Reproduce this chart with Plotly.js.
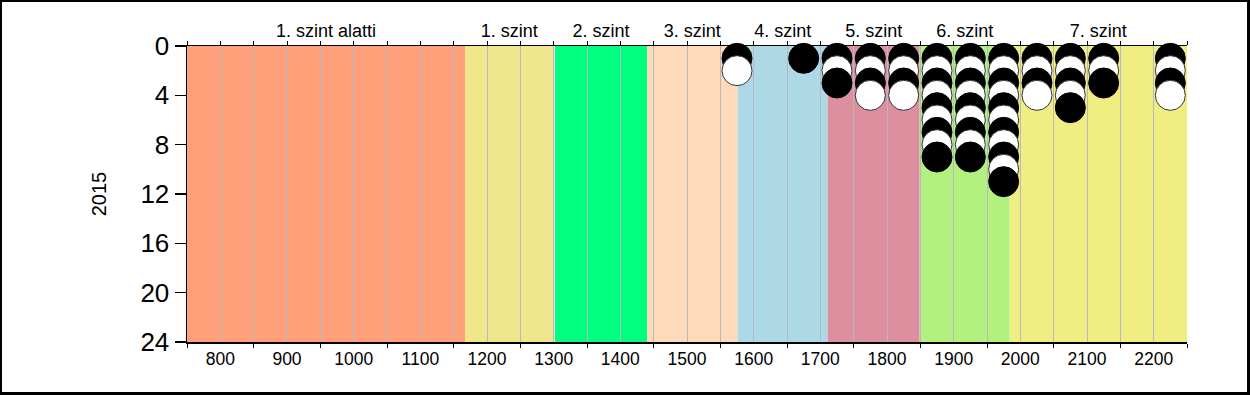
<!DOCTYPE html>
<html>
<head>
<meta charset="utf-8">
<script src="https://cdn.plot.ly/plotly-3.0.1.min.js"></script>
<style>
  html, body { margin: 0; padding: 0; background: #fff; }
  #wrap { position: relative; width: 1250px; height: 395px; }
  #chart { width: 1250px; height: 395px; }
  #frame { position: absolute; left: 0; top: 0; width: 1250px; height: 395px; box-sizing: border-box;
           border-style: solid; border-color: #000; border-width: 2px 3px 3px 2px; pointer-events: none; }
</style>
</head>
<body>
<div id="wrap"><div id="chart"></div><div id="frame"></div></div>
<script>
// Level bands (score ranges) and their labels
const levelNames  = ["1. szint alatti", "1. szint", "2. szint", "3. szint", "4. szint", "5. szint", "6. szint", "7. szint"];
const levelStart  = [750, 1167, 1302, 1440, 1576, 1711, 1849, 1984];
const levelEnd    = [1167, 1300, 1440, 1576, 1711, 1849, 1984, 2250];
const levelColors = ["#FFA07A", "#F0E68C", "#00FF7F", "#FFDAB9", "#ADD8E6", "#DD8FA0", "#B2F080", "#F0EE82"];

// Dot columns: score position and number of students (stacked dots)
const colX     = [1575, 1675, 1725, 1775, 1825, 1875, 1925, 1975, 2025, 2075, 2125, 2225];
const colCount = [2, 1, 3, 4, 4, 9, 9, 11, 4, 5, 3, 4];

// Axis ticks
const xTickVals = [800, 900, 1000, 1100, 1200, 1300, 1400, 1500, 1600, 1700, 1800, 1900, 2000, 2100, 2200];
const yTickVals = [0, 4, 8, 12, 16, 20, 24];
const yearLabel = "2015";

const px = [], py = [], pc = [], pl = [];
colX.forEach((x, i) => {
  for (let k = 1; k <= colCount[i]; k++) {
    px.push(x); py.push(k);
    const black = (k % 2 === 1);
    pc.push(black ? "#000000" : "#FFFFFF");
    pl.push(black ? "#000000" : "#333333");
  }
});

const shapes = levelNames.map((n, i) => ({
  type: "rect", xref: "x", yref: "paper", layer: "below",
  x0: levelStart[i], x1: levelEnd[i], y0: 0, y1: 1,
  fillcolor: levelColors[i], line: { width: 0 }
}));

const centers = levelNames.map((n, i) => (levelStart[i] + levelEnd[i]) / 2);

const traces = [
  {
    type: "scatter", mode: "markers", x: px, y: py, xaxis: "x", yaxis: "y",
    marker: { size: 30, color: pc, line: { color: pl, width: 1 } },
    hoverinfo: "skip", showlegend: false, cliponaxis: false
  },
  {
    type: "scatter", mode: "markers", x: [centers[0]], y: [0], xaxis: "x2", yaxis: "y",
    marker: { opacity: 0 }, hoverinfo: "skip", showlegend: false
  }
];

const font = "Arial, 'Liberation Sans', sans-serif";

const layout = {
  width: 1250, height: 395,
  margin: { l: 187, r: 63, t: 46, b: 53 },
  paper_bgcolor: "#FFFFFF", plot_bgcolor: "rgba(0,0,0,0)",
  showlegend: false,
  font: { family: font, color: "#000" },
  shapes: shapes,
  xaxis: {
    range: [750, 2250], tickvals: xTickVals, ticktext: xTickVals.map(String),
    ticks: "", showline: true, linecolor: "#000", linewidth: 1.5,
    showgrid: true, gridcolor: "#B8B8C0", gridwidth: 1,
    minor: { tick0: 750, dtick: 100, ticks: "outside", ticklen: 4, tickcolor: "#000", showgrid: true, gridcolor: "#B8B8C0", gridwidth: 1 },
    tickfont: { size: 17.5, family: font }, zeroline: false, fixedrange: true
  },
  xaxis2: {
    overlaying: "x", side: "top", range: [750, 2250],
    tickvals: centers, ticktext: levelNames, ticks: "",
    showline: true, linecolor: "#000", linewidth: 1.5, showgrid: false,
    minor: { tick0: 750, dtick: 50, ticks: "outside", ticklen: 4, tickcolor: "#000", showgrid: false },
    tickfont: { size: 18, family: font }, zeroline: false, fixedrange: true
  },
  yaxis: {
    range: [24, 0], tickvals: yTickVals, ticktext: yTickVals.map(String),
    ticks: "outside", ticklen: 11, tickcolor: "#000", tickwidth: 1.5,
    showline: true, linecolor: "#000", linewidth: 1.5, showgrid: false, zeroline: false,
    tickfont: { size: 26, family: font },
    title: { text: yearLabel, font: { size: 20, family: font }, standoff: 28 },
    automargin: false, fixedrange: true
  }
};

Plotly.newPlot("chart", traces, layout, { staticPlot: true, displayModeBar: false });
</script>
</body>
</html>
